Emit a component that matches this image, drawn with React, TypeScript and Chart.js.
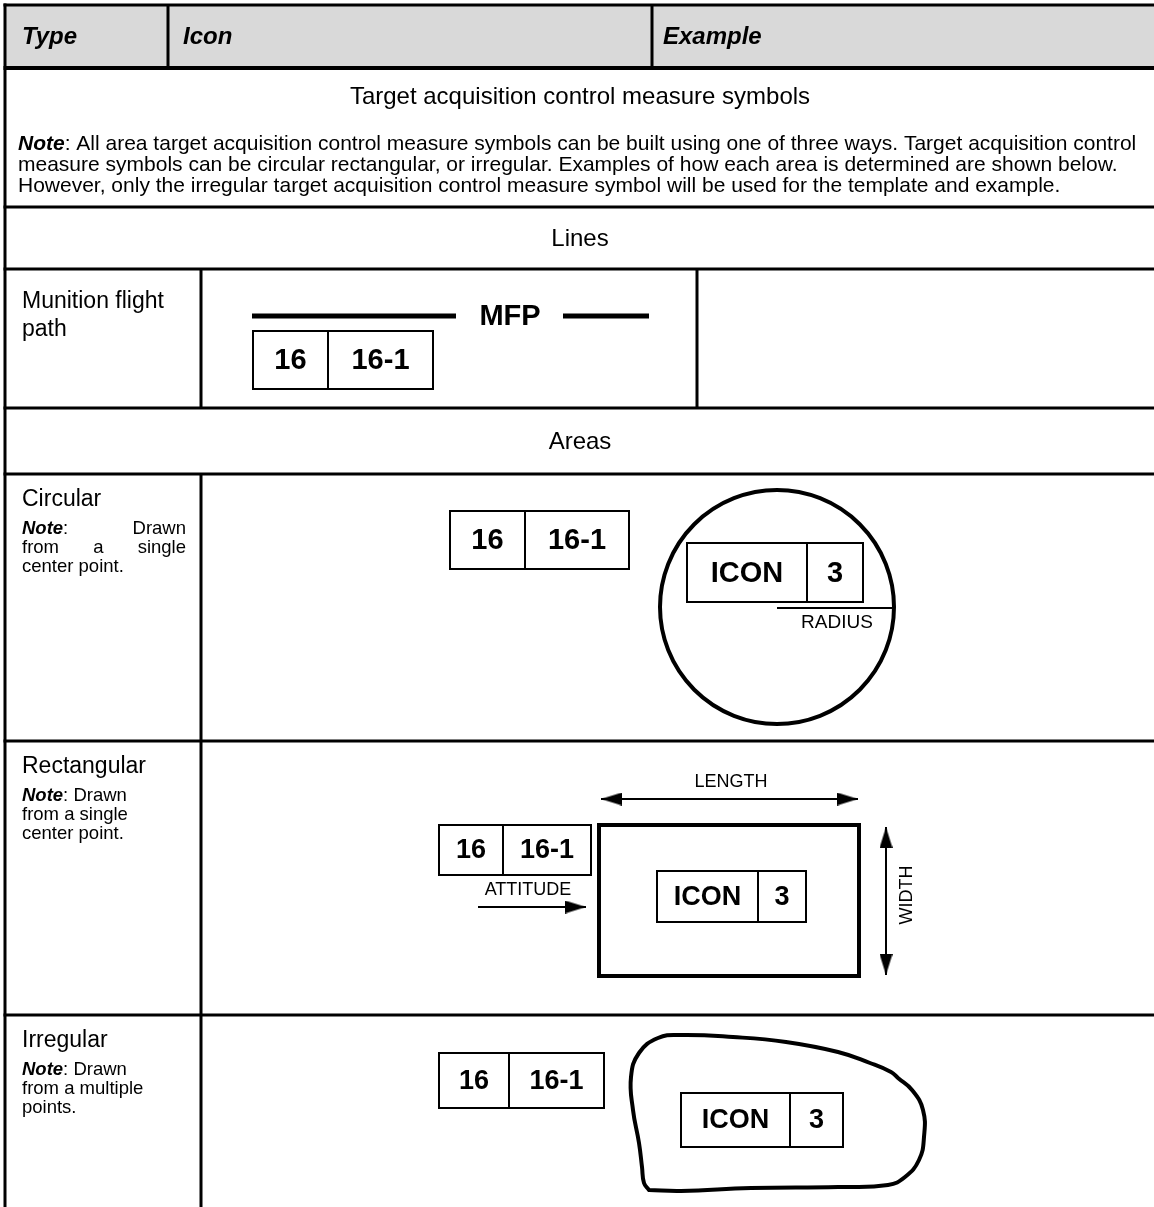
import React, { useEffect, useRef } from 'react';
import { Chart, registerables } from 'chart.js';

Chart.register(...registerables);

const PAGE_W = 1154;
const PAGE_H = 1207;
const FAMILY = '"Liberation Sans", Arial, Helvetica, sans-serif';

// ---------------- text content ----------------
const headerLabels = ['Type', 'Icon', 'Example'];
const sectionTitle = 'Target acquisition control measure symbols';
const noteLead = 'Note';
const introNoteLines = [
  ': All area target acquisition control measure symbols can be built using one of three ways. Target acquisition control',
  'measure symbols can be circular rectangular, or irregular. Examples of how each area is determined are shown below.',
  'However, only the irregular target acquisition control measure symbol will be used for the template and example.',
];
const groupLabels = ['Lines', 'Areas'];
const typeLabels = [['Munition flight', 'path'], ['Circular'], ['Rectangular'], ['Irregular']];
const typeNoteLines = [
  [],
  ['Drawn', 'from a single', 'center point.'],
  ['Drawn', 'from a single', 'center point.'],
  ['Drawn', 'from a multiple', 'points.'],
];
const typeNoteJustified = [false, true, false, false];
const amplifierFields = ['16', '16-1'];
const iconFields = ['ICON', '3'];
const lineName = 'MFP';
const radiusLabel = 'RADIUS';
const lengthLabel = 'LENGTH';
const widthLabel = 'WIDTH';
const attitudeLabel = 'ATTITUDE';

// ---------------- layout (page units = px) ----------------
const ruleY = [5, 68, 207, 269, 408, 474, 741, 1015];
const ruleW = [3, 4, 3, 3, 3, 3, 3, 3];
const tableLeft = 5;
const headerColX = [168, 652];
const headerTextX = [22, 183, 663];
const typeColX = 201;
const lineExampleColX = 697;
const centerX = 580;
const typeRowTops = [269, 474, 741, 1015];

// amplifier boxes: [x1, y1, xDivider, x2, y2]
const fieldBoxes = [
  [253, 331, 328, 433, 389],
  [450, 511, 525, 629, 569],
  [439, 825, 503, 591, 875],
  [439, 1053, 509, 604, 1108],
];
const fieldFontSize = [29, 29, 27, 27];
const iconBoxes = [
  [687, 543, 807, 863, 602],
  [657, 871, 758, 806, 922],
  [681, 1093, 790, 843, 1147],
];
const iconFontSize = [29, 27, 27];

const mfpSegments = [
  [252, 456, 316],
  [563, 649, 316],
];
const mfpTextPos = [510, 317];

const circleCenter = [777, 607];
const circleRadius = 117;
const radiusLine = [777, 894, 608];
const radiusTextPos = [837, 623];

const rectArea = [599, 825, 859, 976];
const lengthArrow = [601, 799, 858, 799];
const widthArrow = [886, 827, 886, 975];
const attitudeArrow = [478, 907, 586, 907];
const lengthTextPos = [731, 782];
const widthTextPos = [907, 895];
const attitudeTextPos = [528, 890];

const irregularOutline = [
  [649, 1190], [644, 1183], [642, 1167], [639, 1143], [633, 1110], [631, 1077],
  [639, 1053], [658, 1038], [681, 1035], [733, 1037], [786, 1042], [838, 1052],
  [870, 1063], [891, 1072], [898, 1078], [912, 1090], [923, 1110], [924, 1137],
  [919, 1160], [905, 1177], [888, 1185], [838, 1187], [751, 1188], [681, 1191], [649, 1190],
];

const fBI = (s: number) => `italic bold ${s}px ${FAMILY}`;
const fR = (s: number) => `${s}px ${FAMILY}`;
const fB = (s: number) => `bold ${s}px ${FAMILY}`;

type Run = [string, string];

function makeArrowHead(): HTMLCanvasElement {
  const c = document.createElement('canvas');
  c.width = 21;
  c.height = 13;
  const g = c.getContext('2d')!;
  g.fillStyle = '#000';
  g.beginPath();
  g.moveTo(0, 0);
  g.lineTo(21, 6.5);
  g.lineTo(0, 13);
  g.closePath();
  g.fill();
  return c;
}

export default function App() {
  const canvasRef = useRef<HTMLCanvasElement | null>(null);

  useEffect(() => {
    const canvas = canvasRef.current;
    if (!canvas) return;
    const datasets: any[] = [];
    const stroke = (pts: number[][], width: number, extra: any = {}) => {
      datasets.push({
        data: pts.map(([x, y]) => ({ x, y })),
        borderColor: '#000',
        borderWidth: width,
        pointRadius: 0,
        pointHitRadius: 0,
        fill: false,
        tension: 0,
        clip: false,
        borderCapStyle: 'butt',
        borderJoinStyle: 'miter',
        ...extra,
      });
    };
    const box = (x1: number, y1: number, x2: number, y2: number, w: number) =>
      stroke([[x1, y1], [x2, y1], [x2, y2], [x1, y2], [x1, y1]], w, { borderCapStyle: 'square' });

    // table rules
    ruleY.forEach((y, i) => stroke([[tableLeft - 1.5, y], [PAGE_W, y]], ruleW[i]));
    stroke([[tableLeft, ruleY[0] - 1.5], [tableLeft, PAGE_H]], 3);
    headerColX.forEach((x) => stroke([[x, ruleY[0]], [x, ruleY[1]]], 3));
    stroke([[typeColX, ruleY[3]], [typeColX, ruleY[4]]], 3);
    stroke([[typeColX, ruleY[5]], [typeColX, PAGE_H]], 3);
    stroke([[lineExampleColX, ruleY[3]], [lineExampleColX, ruleY[4]]], 3);

    // amplifier boxes
    fieldBoxes.forEach(([x1, y1, xd, x2, y2]) => {
      box(x1, y1, x2, y2, 2);
      stroke([[xd, y1], [xd, y2]], 2);
    });
    iconBoxes.forEach(([x1, y1, xd, x2, y2]) => {
      box(x1, y1, x2, y2, 2);
      stroke([[xd, y1], [xd, y2]], 2);
    });

    // munition flight path line
    mfpSegments.forEach(([x1, x2, y]) => stroke([[x1, y], [x2, y]], 5));

    // circular area
    datasets.push({
      data: [{ x: circleCenter[0], y: circleCenter[1] }],
      showLine: false,
      pointStyle: 'circle',
      pointRadius: circleRadius,
      pointBorderWidth: 4,
      pointBorderColor: '#000',
      pointBackgroundColor: 'rgba(0,0,0,0)',
      clip: false,
    });
    stroke([[radiusLine[0], radiusLine[2]], [radiusLine[1], radiusLine[2]]], 2);

    // rectangular area
    box(rectArea[0], rectArea[1], rectArea[2], rectArea[3], 4);
    const arrowImg = makeArrowHead();
    const headPts: any[] = [];
    const addArrow = (a: number[], both: boolean) => {
      const [x1, y1, x2, y2] = a;
      stroke([[x1, y1], [x2, y2]], 2);
      const len = Math.hypot(x2 - x1, y2 - y1);
      const dx = (x2 - x1) / len;
      const dy = (y2 - y1) / len;
      const ang = (Math.atan2(dy, dx) * 180) / Math.PI;
      headPts.push({ x: x2 - dx * 10.5, y: y2 - dy * 10.5, r: ang });
      if (both) headPts.push({ x: x1 + dx * 10.5, y: y1 + dy * 10.5, r: ang + 180 });
    };
    addArrow(lengthArrow, true);
    addArrow(widthArrow, true);
    addArrow(attitudeArrow, false);
    datasets.push({
      data: headPts.map((p) => ({ x: p.x, y: p.y })),
      showLine: false,
      pointStyle: arrowImg,
      pointRadius: 5,
      pointRotation: headPts.map((p) => p.r),
      clip: false,
    });

    // irregular area
    stroke(irregularOutline, 4, { tension: 0.45, borderJoinStyle: 'round', borderCapStyle: 'round' });

    // header fill (drawn first => pushed last)
    datasets.push({
      data: [{ x: tableLeft, y: ruleY[1] }, { x: PAGE_W, y: ruleY[1] }],
      borderWidth: 0,
      pointRadius: 0,
      fill: { value: ruleY[0] },
      backgroundColor: '#d9d9d9',
      clip: false,
    });

    const textPlugin = {
      id: 'tableText',
      afterDraw(chart: any) {
        const ctx: CanvasRenderingContext2D = chart.ctx;
        const sx = chart.scales.x;
        const sy = chart.scales.y;
        const px = (v: number) => sx.getPixelForValue(v);
        const py = (v: number) => sy.getPixelForValue(v);
        ctx.save();
        ctx.fillStyle = '#000';
        ctx.textBaseline = 'middle';

        const runs = (rs: Run[], x: number, y: number, align: 'left' | 'center' = 'left') => {
          ctx.textAlign = 'left';
          let total = 0;
          rs.forEach(([t, f]) => {
            ctx.font = f;
            total += ctx.measureText(t).width;
          });
          let cx = align === 'center' ? px(x) - total / 2 : px(x);
          rs.forEach(([t, f]) => {
            ctx.font = f;
            ctx.fillText(t, cx, py(y));
            cx += ctx.measureText(t).width;
          });
        };
        const justified = (words: Run[][], x1: number, x2: number, y: number) => {
          ctx.textAlign = 'left';
          const widths = words.map((w) =>
            w.reduce((acc, [t, f]) => {
              ctx.font = f;
              return acc + ctx.measureText(t).width;
            }, 0)
          );
          const sum = widths.reduce((a, b) => a + b, 0);
          const gap = words.length > 1 ? (px(x2) - px(x1) - sum) / (words.length - 1) : 0;
          let cx = px(x1);
          words.forEach((w, i) => {
            let wx = cx;
            w.forEach(([t, f]) => {
              ctx.font = f;
              ctx.fillText(t, wx, py(y));
              wx += ctx.measureText(t).width;
            });
            cx += widths[i] + gap;
          });
        };

        // header
        headerLabels.forEach((t, i) => runs([[t, fBI(24)]], headerTextX[i], 37));
        // title and intro note
        runs([[sectionTitle, fR(24)]], centerX, 97, 'center');
        runs([[noteLead, fBI(21)], [introNoteLines[0], fR(21)]], 18, 144);
        runs([[introNoteLines[1], fR(21)]], 18, 165);
        runs([[introNoteLines[2], fR(21)]], 18, 186);
        // group headings
        runs([[groupLabels[0], fR(24)]], centerX, 239, 'center');
        runs([[groupLabels[1], fR(24)]], centerX, 442, 'center');

        // type column
        typeLabels.forEach((lines, i) => {
          const top = typeRowTops[i];
          if (i === 0) {
            lines.forEach((t, j) => runs([[t, fR(23)]], 22, 302 + j * 28));
            return;
          }
          runs([[lines[0], fR(23)]], 22, top + 26);
          const notes = typeNoteLines[i];
          const nf = 18.5;
          notes.forEach((t, j) => {
            const y = top + 55 + j * 19;
            if (typeNoteJustified[i] && j < notes.length - 1) {
              const words: Run[][] = t.split(' ').map((w) => [[w, fR(nf)]] as Run[]);
              if (j === 0) words.unshift([[noteLead, fBI(nf)], [':', fR(nf)]]);
              justified(words, 22, 186, y);
            } else if (j === 0) {
              runs([[noteLead, fBI(nf)], [': ' + t, fR(nf)]], 22, y);
            } else {
              runs([[t, fR(nf)]], 22, y);
            }
          });
        });

        // amplifier texts
        fieldBoxes.forEach(([x1, y1, xd, x2, y2], i) => {
          const cy = (y1 + y2) / 2 + 1;
          runs([[amplifierFields[0], fB(fieldFontSize[i])]], (x1 + xd) / 2, cy, 'center');
          runs([[amplifierFields[1], fB(fieldFontSize[i])]], (xd + x2) / 2, cy, 'center');
        });
        iconBoxes.forEach(([x1, y1, xd, x2, y2], i) => {
          const cy = (y1 + y2) / 2 + 1;
          runs([[iconFields[0], fB(iconFontSize[i])]], (x1 + xd) / 2, cy, 'center');
          runs([[iconFields[1], fB(iconFontSize[i])]], (xd + x2) / 2, cy, 'center');
        });

        runs([[lineName, fB(29)]], mfpTextPos[0], mfpTextPos[1], 'center');
        runs([[radiusLabel, fR(19)]], radiusTextPos[0], radiusTextPos[1], 'center');
        runs([[lengthLabel, fR(18)]], lengthTextPos[0], lengthTextPos[1], 'center');
        runs([[attitudeLabel, fR(18)]], attitudeTextPos[0], attitudeTextPos[1], 'center');

        ctx.save();
        ctx.translate(px(widthTextPos[0]), py(widthTextPos[1]));
        ctx.rotate(-Math.PI / 2);
        ctx.font = fR(18);
        ctx.textAlign = 'center';
        ctx.fillText(widthLabel, 0, 0);
        ctx.restore();

        ctx.restore();
      },
    };

    const chart = new Chart(canvas, {
      type: 'line',
      data: { datasets },
      options: {
        animation: false,
        responsive: false,
        devicePixelRatio: 1,
        events: [],
        layout: { padding: 0, autoPadding: false } as any,
        scales: {
          x: { type: 'linear', min: 0, max: PAGE_W, display: false },
          y: { type: 'linear', min: 0, max: PAGE_H, reverse: true, display: false },
        },
        plugins: { legend: { display: false }, tooltip: { enabled: false } },
      },
      plugins: [textPlugin],
    } as any);

    return () => chart.destroy();
  }, []);

  return (
    <div style={{ position: 'absolute', left: 0, top: 0, width: PAGE_W, height: PAGE_H, background: '#fff' }}>
      <canvas ref={canvasRef} width={PAGE_W} height={PAGE_H} style={{ display: 'block', width: PAGE_W, height: PAGE_H }} />
    </div>
  );
}
